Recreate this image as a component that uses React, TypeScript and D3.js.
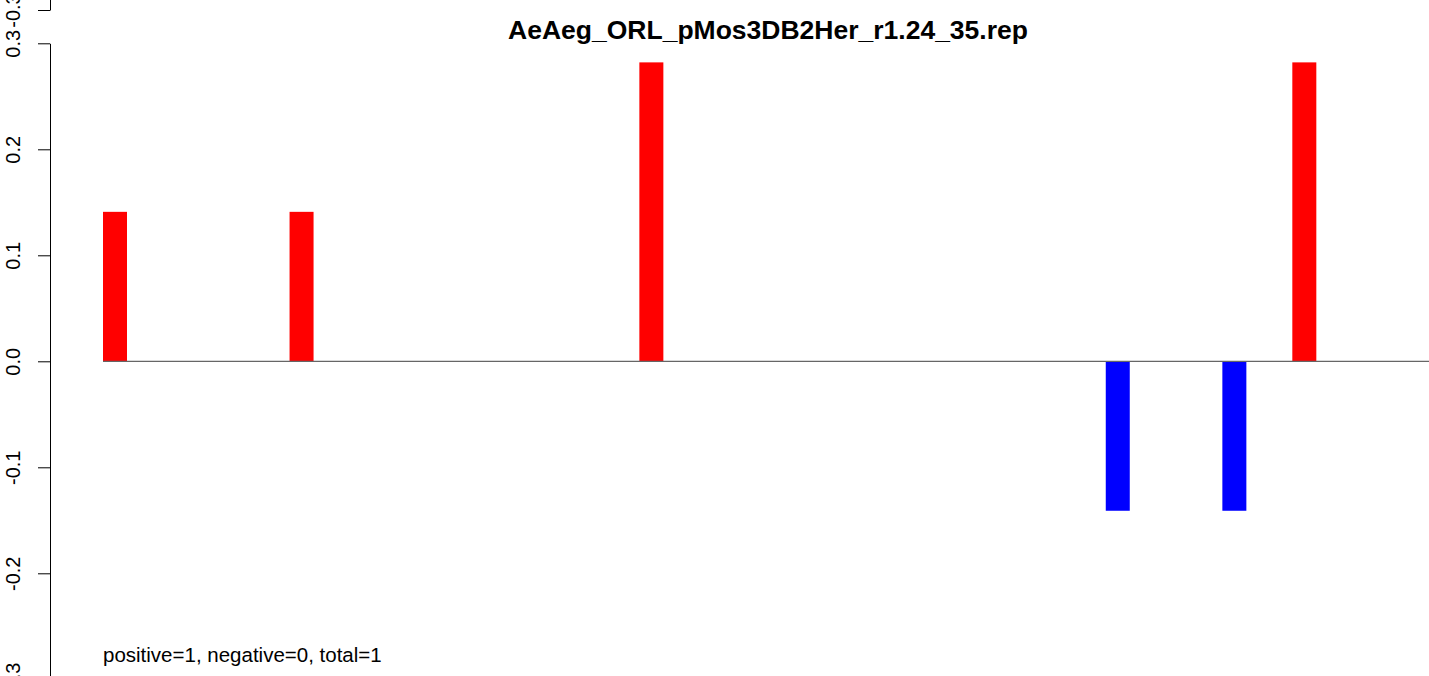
import React, { useEffect, useRef } from "react";
import * as d3 from "d3";

const TITLE = "AeAeg_ORL_pMos3DB2Her_r1.24_35.rep";
const NOTE = "positive=1, negative=0, total=1";
// bar slot indices along the x axis and their values
const barIndex = [0, 8, 23, 43, 48, 51];
const barValue = [0.141, 0.141, 0.282, -0.141, -0.141, 0.282];
const yTicks = [-0.3, -0.2, -0.1, 0.0, 0.1, 0.2, 0.3];
const prevPanelTicks = [-0.3];

const W = 1429;
const H = 676;

export default function App() {
  const axisRef = useRef<SVGGElement>(null);
  const prevAxisRef = useRef<SVGGElement>(null);

  const y = d3.scaleLinear().domain([-0.3, 0.3]).range([679.3, 43.3]);
  // previous (cropped) panel's axis: only its lowest tick is visible
  const yPrev = d3.scaleLinear().domain([-0.3, 0.3]).range([10, -626]);
  const x = d3.scaleLinear().domain([0, 1]).range([103, 126.32]);
  const barW = 24;

  const fmt = (d: number) => (d < 0 ? "-" : "") + Math.abs(d).toFixed(1);

  useEffect(() => {
    const style = (g: d3.Selection<SVGGElement, unknown, null, undefined>) => {
      g.selectAll("path.domain").attr("stroke", "#000").attr("stroke-width", 1);
      g.selectAll(".tick line").attr("stroke", "#000").attr("stroke-width", 1);
      g.selectAll(".tick text")
        .attr("x", 0)
        .attr("dy", 0)
        .attr("transform", "translate(-30,0) rotate(-90)")
        .attr("text-anchor", "middle")
        .attr("fill", "#000")
        .attr("font-size", 20)
        .attr("font-family", "Liberation Sans, Arial, sans-serif");
    };
    if (axisRef.current) {
      const g = d3.select(axisRef.current);
      g.call(
        d3.axisLeft(y).tickValues(yTicks).tickFormat((d) => fmt(d as number)).tickSize(12).tickSizeOuter(0)
      );
      style(g);
    }
    if (prevAxisRef.current) {
      const g = d3.select(prevAxisRef.current);
      g.call(
        d3.axisLeft(yPrev).tickValues(prevPanelTicks).tickFormat((d) => fmt(d as number)).tickSize(12).tickSizeOuter(0)
      );
      style(g);
    }
  }, []);

  const lastX = W;

  return (
    <svg
      width={W}
      height={H}
      style={{ position: "absolute", left: 0, top: 0, background: "#fff" }}
      fontFamily="Liberation Sans, Arial, sans-serif"
    >
      <rect x={0} y={0} width={W} height={H} fill="#fff" />
      <g ref={prevAxisRef} transform="translate(50,0)" />
      <g ref={axisRef} transform="translate(50,0)" />
      {barIndex.map((k, i) => {
        const v = barValue[i];
        const y0 = y(0);
        const y1 = y(v);
        return (
          <rect
            key={i}
            x={x(k)}
            y={Math.min(y0, y1)}
            width={barW}
            height={Math.abs(y1 - y0)}
            fill={v >= 0 ? "#ff0000" : "#0000ff"}
          />
        );
      })}
      <line x1={x(0)} x2={lastX} y1={y(0)} y2={y(0)} stroke="#666" strokeWidth={1.2} />
      <text x={768} y={39} textAnchor="middle" fontWeight="bold" fontSize={26.5}>
        {TITLE}
      </text>
      <text x={103} y={662} fontSize={20.5}>
        {NOTE}
      </text>
    </svg>
  );
}
